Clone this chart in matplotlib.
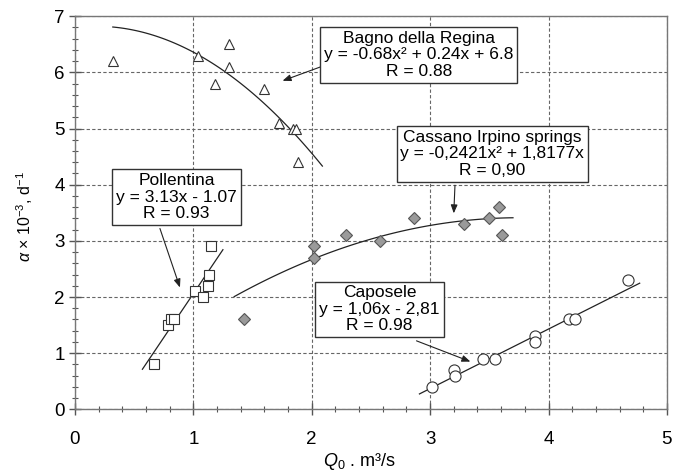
import numpy as np
import matplotlib
matplotlib.use("Agg")
import matplotlib.pyplot as plt
from matplotlib.ticker import MultipleLocator

plt.rcParams['font.family'] = ['Liberation Sans', 'DejaVu Sans']
plt.rcParams['mathtext.fontset'] = 'custom'
plt.rcParams['mathtext.rm'] = 'Liberation Sans'
plt.rcParams['mathtext.it'] = 'Liberation Sans:italic'
plt.rcParams['mathtext.bf'] = 'Liberation Sans:bold'

# Bagno della Regina (open triangles)
bagno_q = [0.32, 1.04, 1.30, 1.30, 1.18, 1.60, 1.72, 1.84, 1.87, 1.88]
bagno_a = [6.2, 6.3, 6.5, 6.1, 5.8, 5.7, 5.1, 5.0, 5.0, 4.4]
bagno_coef = [-0.68, 0.24, 6.8]
bagno_range = [0.32, 2.09]

# Pollentina (open squares)
poll_q = [0.67, 0.79, 0.81, 0.84, 1.01, 1.08, 1.12, 1.13, 1.15]
poll_a = [0.8, 1.5, 1.6, 1.6, 2.1, 2.0, 2.2, 2.4, 2.9]
poll_coef = [3.13, -1.07]
poll_range = [0.57, 1.25]

# Cassano Irpino springs (grey diamonds)
cass_q = [1.43, 2.02, 2.02, 2.29, 2.58, 2.86, 3.29, 3.50, 3.58, 3.61]
cass_a = [1.6, 2.9, 2.7, 3.1, 3.0, 3.4, 3.3, 3.4, 3.6, 3.1]
cass_coef = [-0.2421, 1.8177, 0.0]
cass_range = [1.345, 3.70]

# Caposele (open circles)
capo_q = [3.02, 3.20, 3.21, 3.45, 3.55, 3.89, 3.89, 4.17, 4.22, 4.67]
capo_a = [0.4, 0.7, 0.6, 0.9, 0.9, 1.3, 1.2, 1.6, 1.6, 2.3]
capo_coef = [1.06, -2.81]
capo_range = [2.91, 4.77]

fig = plt.figure(figsize=(6.75, 4.76), dpi=100)
ax = fig.add_axes([0.111, 0.140, 0.877, 0.826])

ax.set_xlim(0, 5)
ax.set_ylim(0, 7)
ax.xaxis.set_major_locator(MultipleLocator(1))
ax.yaxis.set_major_locator(MultipleLocator(1))
ax.xaxis.set_minor_locator(MultipleLocator(0.2))
ax.yaxis.set_minor_locator(MultipleLocator(0.2))
ax.grid(True, which='major', color='#666666', linestyle=(0, (3, 2)), linewidth=0.8)
ax.set_axisbelow(True)

for side in ['left', 'bottom', 'right', 'top']:
    ax.spines[side].set_color('#777777')
    ax.spines[side].set_linewidth(1.0)

ax.tick_params(which='major', direction='inout', length=9, width=1.0, color='#555555',
               labelsize=13.5, right=False, top=False)
ax.tick_params(axis='x', which='major', pad=11)
ax.tick_params(axis='y', which='major', pad=3)
ax.tick_params(which='minor', direction='inout', length=5, width=0.8, color='#555555',
               right=False, top=False)


def fit_line(coef, rng):
    xs = np.linspace(rng[0], rng[1], 100)
    ax.plot(xs, np.polyval(coef, xs), color='#222222', linewidth=0.9, zorder=3)


fit_line(bagno_coef, bagno_range)
fit_line(poll_coef, poll_range)
fit_line(cass_coef, cass_range)
fit_line(capo_coef, capo_range)

ax.plot(bagno_q, bagno_a, linestyle='none', marker='^', markersize=7,
        markerfacecolor='white', markeredgecolor='#333333', markeredgewidth=0.8, zorder=4)
ax.plot(poll_q, poll_a, linestyle='none', marker='s', markersize=7.5,
        markerfacecolor='white', markeredgecolor='#333333', markeredgewidth=0.8, zorder=4)
ax.plot(cass_q, cass_a, linestyle='none', marker='D', markersize=6.5,
        markerfacecolor='#9a9a9a', markeredgecolor='#555555', markeredgewidth=0.8, zorder=4)
ax.plot(capo_q, capo_a, linestyle='none', marker='o', markersize=8,
        markerfacecolor='white', markeredgecolor='#333333', markeredgewidth=0.8, zorder=4)

box = dict(boxstyle='square,pad=0.22', facecolor='white', edgecolor='#333333', linewidth=1.0)
text_kw = dict(ha='center', va='center', fontsize=12.5, linespacing=1.13, bbox=box, zorder=6)

ax.text(2.905, 6.31, 'Bagno della Regina\ny = -0.68x² + 0.24x + 6.8\nR = 0.88', **text_kw)
ax.text(3.526, 4.547, 'Cassano Irpino springs\ny = -0,2421x² + 1,8177x\nR = 0,90', **text_kw)
ax.text(0.859, 3.78, 'Pollentina\ny = 3.13x - 1.07\nR = 0.93', **text_kw)
ax.text(2.572, 1.78, 'Caposele\ny = 1,06x - 2,81\nR = 0.98', **text_kw)

arrow_kw = dict(arrowstyle='-|>,head_length=0.5,head_width=0.2', color='#222222',
                linewidth=0.8, shrinkA=0, shrinkB=0)
ax.annotate('', xy=(1.754, 5.85), xytext=(2.078, 6.10), arrowprops=arrow_kw, zorder=5)
ax.annotate('', xy=(3.20, 3.49), xytext=(3.21, 3.99), arrowprops=arrow_kw, zorder=5)
ax.annotate('', xy=(0.887, 2.17), xytext=(0.718, 3.22), arrowprops=arrow_kw, zorder=5)
ax.annotate('', xy=(3.34, 0.85), xytext=(2.885, 1.22), arrowprops=arrow_kw, zorder=5)

ax.set_xlabel('$Q_0$ . m³/s', fontsize=13)
ax.xaxis.set_label_coords(0.48, -0.105)
ax.set_ylabel(r'$\mathit{\alpha}$ × 10$^{-3}$, d$^{-1}$', fontsize=11.5)
ax.yaxis.set_label_coords(-0.068, 0.49)

fig.savefig('out.png', dpi=100)
